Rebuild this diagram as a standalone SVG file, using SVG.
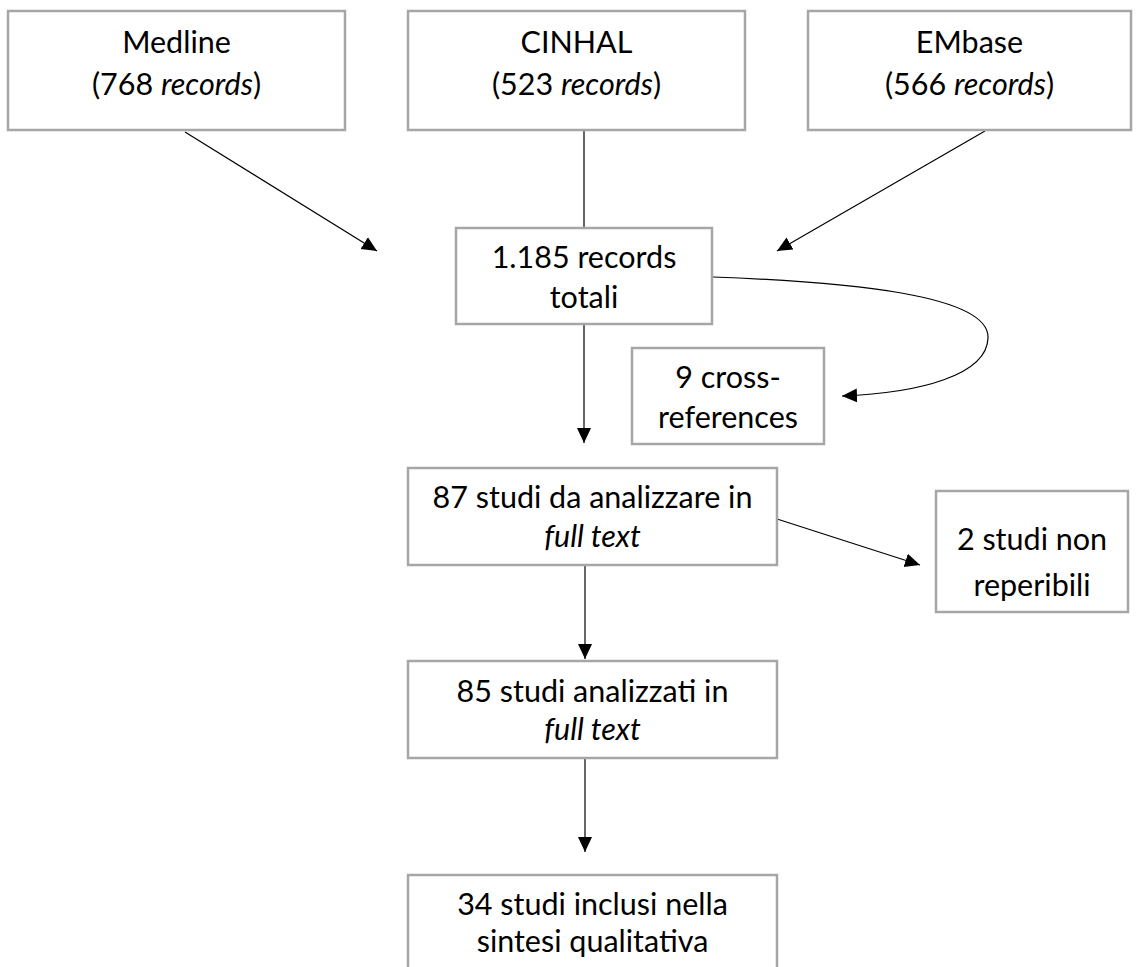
<svg xmlns="http://www.w3.org/2000/svg" width="1144" height="967" viewBox="0 0 1144 967">
<defs>
<style>
.box{fill:#ffffff;stroke:#a6a6a6;stroke-width:2.5}
.t{font-family:Lato,"Open Sans","Liberation Sans",sans-serif;font-size:30.5px;fill:#000;text-anchor:middle}
.i{font-style:italic}
.c{fill:none;stroke:#000;stroke-width:1.2}
</style>
<marker id="ah" markerUnits="userSpaceOnUse" markerWidth="16" markerHeight="16" refX="15" refY="7" orient="auto">
<path d="M0,0 L15,7 L0,14 z" fill="#000"/>
</marker>
</defs>
<rect width="1144" height="967" fill="#fff"/>
<g id="connectors">
<line class="c" x1="185" y1="132" x2="377" y2="251" marker-end="url(#ah)"/>
<line class="c" x1="584" y1="130" x2="584" y2="228"/>
<line class="c" x1="985" y1="131" x2="777" y2="251" marker-end="url(#ah)"/>
<path class="c" d="M713,277 C850,282 990,295 988,338 C987,375 920,393 842,396" marker-end="url(#ah)"/>
<line class="c" x1="584" y1="324" x2="584" y2="443" marker-end="url(#ah)"/>
<line class="c" x1="777" y1="519" x2="920" y2="565" marker-end="url(#ah)"/>
<line class="c" x1="585" y1="565" x2="585" y2="659" marker-end="url(#ah)"/>
<line class="c" x1="585" y1="758" x2="585" y2="852" marker-end="url(#ah)"/>
</g>
<g id="medline">
<rect class="box" x="8" y="11" width="337" height="119"/>
<text class="t" x="176.5" y="53">Medline</text>
<text class="t" x="176.5" y="95">(768 <tspan class="i">records</tspan>)</text>
</g>
<g id="cinhal">
<rect class="box" x="408" y="11" width="337" height="119"/>
<text class="t" x="576.5" y="53">CINHAL</text>
<text class="t" x="576.5" y="95">(523 <tspan class="i">records</tspan>)</text>
</g>
<g id="embase">
<rect class="box" x="808" y="11" width="323" height="119"/>
<text class="t" x="969.5" y="53">EMbase</text>
<text class="t" x="969.5" y="95">(566 <tspan class="i">records</tspan>)</text>
</g>
<g id="totali">
<rect class="box" x="456" y="228" width="256" height="96"/>
<text class="t" x="584" y="268">1.185 records</text>
<text class="t" x="584" y="308">totali</text>
</g>
<g id="crossref">
<rect class="box" x="632" y="348" width="192" height="96"/>
<text class="t" x="728" y="388">9 cross-</text>
<text class="t" x="728" y="428">references</text>
</g>
<g id="studi87">
<rect class="box" x="408" y="468" width="369" height="97"/>
<text class="t" x="592.5" y="508">87 studi da analizzare in</text>
<text class="t i" x="592.5" y="547">full text</text>
</g>
<g id="nonreperibili">
<rect class="box" x="936" y="491" width="192" height="121"/>
<text class="t" x="1032" y="550">2 studi non</text>
<text class="t" x="1032" y="596">reperibili</text>
</g>
<g id="studi85">
<rect class="box" x="408" y="661" width="369" height="97"/>
<text class="t" x="592.5" y="702">85 studi analizzati in</text>
<text class="t i" x="592.5" y="740">full text</text>
</g>
<g id="studi34">
<rect class="box" x="408" y="875" width="369" height="110"/>
<text class="t" x="592.5" y="915">34 studi inclusi nella</text>
<text class="t" x="592.5" y="952">sintesi qualitativa</text>
</g>
</svg>
